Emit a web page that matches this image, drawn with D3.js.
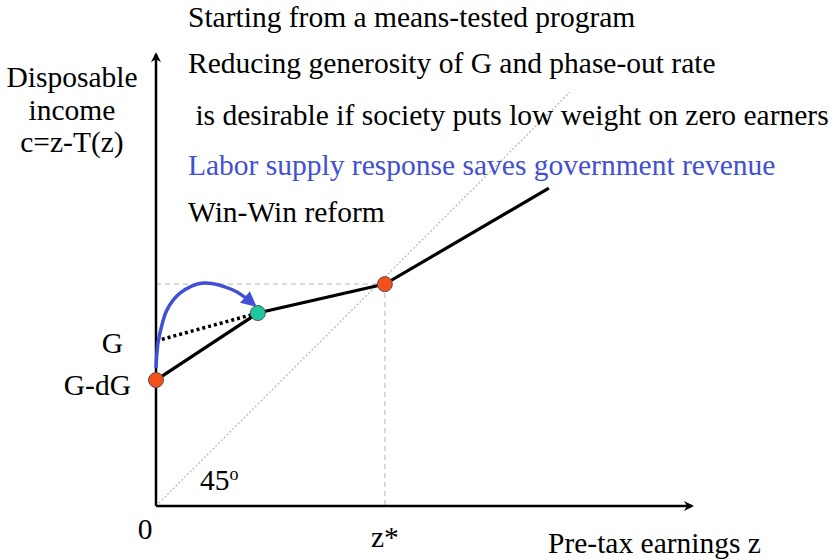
<!DOCTYPE html>
<html><head><meta charset="utf-8">
<script src="https://cdn.jsdelivr.net/npm/d3@7"></script>
<style>body{margin:0;background:#fff}</style>
</head><body><div id="chart"></div>
<script>
// ---- data (model units; 45-degree line means c = z) ----
const zStar = 42.7;
const reformKink = [[0, 23.5], [19.0, 36.0], [zStar, 41.4], [73.3, 59.3]]; // new schedule (solid)
const oldSegment = [[0, 30.8], [19.0, 36.0]];   // original program G -> kink (dotted)
const kinkPoints = [{x: 0, y: 23.5, c: "red"}, {x: 19.0, y: 36.0, c: "green"}, {x: zStar, y: 41.4, c: "red"}];
const responseCurve = [[0, 25.7], [0.37, 30.4], [1.12, 33.8], [2.05, 36.6], [4.48, 39.7], [8.77, 41.6], [14.37, 40.3], [17.9, 37.9]];
const diagonal = [[0, 0], [77.2, 77.2]];
const titleLines = [
  {t: "Starting from a means-tested program", x: 188, y: 27, blue: false},
  {t: "Reducing generosity of G and phase-out rate", x: 188, y: 73, blue: false},
  {t: "\u00a0is desirable if society puts low weight on zero earners", x: 188, y: 125, blue: false},
  {t: "Labor supply response saves government revenue", x: 188, y: 175, blue: true},
  {t: "Win-Win reform", x: 188, y: 222, blue: false}
];
const yLabel = ["Disposable", "income", "c=z-T(z)"];
const xLabel = "Pre-tax earnings z";

const W = 833, H = 560;
const k = 5.36;
const FONT = "'Liberation Serif', 'Times New Roman', 'DejaVu Serif', serif";
const x = d3.scaleLinear().domain([0, 100]).range([156, 156 + 100 * k]);
const y = d3.scaleLinear().domain([0, 100]).range([506, 506 - 100 * k]);

const svg = d3.select("#chart").append("svg").attr("width", W).attr("height", H)
  .attr("font-family", FONT);
const defs = svg.append("defs");
defs.append("marker").attr("id", "axArrow").attr("viewBox", "0 0 10 10").attr("refX", 8).attr("refY", 5)
  .attr("markerWidth", 4).attr("markerHeight", 4).attr("orient", "auto")
  .append("path").attr("d", "M0,0L10,5L0,10L3,5Z").attr("fill", "#000");
defs.append("marker").attr("id", "blueArrow").attr("viewBox", "0 0 10 10").attr("refX", 6).attr("refY", 5)
  .attr("markerWidth", 4.4).attr("markerHeight", 4.4).attr("orient", "auto")
  .append("path").attr("d", "M0,0L10,5L0,10Z").attr("fill", "#4150d6");

const line = d3.line().x(d => x(d[0])).y(d => y(d[1]));

// diagonal
svg.append("path").attr("d", line(diagonal)).attr("stroke", "#b5b5b5").attr("stroke-width", 1.2)
  .attr("stroke-dasharray", "2,2").attr("fill", "none");
// guide lines at z*
svg.append("path").attr("d", line([[0, 41.4], [zStar, 41.4]])).attr("stroke", "#c4c4c4").attr("stroke-width", 1.2)
  .attr("stroke-dasharray", "5,4").attr("fill", "none");
svg.append("path").attr("d", line([[zStar, 41.4], [zStar, 0]])).attr("stroke", "#c4c4c4").attr("stroke-width", 1.2)
  .attr("stroke-dasharray", "5,4").attr("fill", "none");

// axes
svg.append("line").attr("x1", x(0)).attr("y1", y(0)).attr("x2", x(0)).attr("y2", y(84.3))
  .attr("stroke", "#000").attr("stroke-width", 2.5).attr("marker-end", "url(#axArrow)");
svg.append("line").attr("x1", x(0)).attr("y1", y(0)).attr("x2", x(100)).attr("y2", y(0))
  .attr("stroke", "#000").attr("stroke-width", 2.5).attr("marker-end", "url(#axArrow)");

// dotted original segment
svg.append("path").attr("d", line(oldSegment)).attr("stroke", "#000").attr("stroke-width", 3.5)
  .attr("stroke-dasharray", "3,3").attr("fill", "none");
// reform schedule
svg.append("path").attr("d", line(reformKink)).attr("stroke", "#000").attr("stroke-width", 3.2).attr("fill", "none");
// labor supply response
svg.append("path").attr("d", d3.line().x(d => x(d[0])).y(d => y(d[1])).curve(d3.curveCatmullRom)(responseCurve))
  .attr("stroke", "#4150d6").attr("stroke-width", 3.5).attr("fill", "none").attr("marker-end", "url(#blueArrow)");

// points
svg.selectAll("circle.pt").data(kinkPoints).join("circle").attr("class", "pt")
  .attr("cx", d => x(d.x)).attr("cy", d => y(d.y)).attr("r", 7.5)
  .attr("fill", d => d.c === "red" ? "#f4501c" : "#1dc8a0").attr("stroke", "#555").attr("stroke-width", 1);

// text
const fs = 29.5;
svg.selectAll("text.title").data(titleLines).join("text").attr("class", "title")
  .attr("x", d => d.x).attr("y", d => d.y).attr("font-size", fs).attr("font-family", FONT)
  .attr("fill", d => d.blue ? "#4150d6" : "#000").text(d => d.t);
svg.selectAll("text.ylab").data(yLabel).join("text").attr("class", "ylab")
  .attr("x", 72).attr("y", (d, i) => [87, 120, 152][i]).attr("text-anchor", "middle").attr("font-size", fs).attr("font-family", FONT).text(d => d);
svg.append("text").attr("x", 123).attr("y", 353).attr("text-anchor", "end").attr("font-size", fs).attr("font-family", FONT).text("G");
svg.append("text").attr("x", 131).attr("y", 395).attr("text-anchor", "end").attr("font-size", fs).attr("font-family", FONT).text("G-dG");
svg.append("text").attr("x", 145).attr("y", 539).attr("text-anchor", "middle").attr("font-size", fs).attr("font-family", FONT).text("0");
svg.append("text").attr("x", x(zStar)).attr("y", 547).attr("text-anchor", "middle").attr("font-size", fs).attr("font-family", FONT).text("z*");
svg.append("text").attr("x", 548).attr("y", 553).attr("font-size", fs).attr("font-family", FONT).text(xLabel);
const t45 = svg.append("text").attr("x", 200).attr("y", 490).attr("font-size", fs).attr("font-family", FONT);
t45.append("tspan").text("45");
t45.append("tspan").attr("font-size", 18).attr("dy", -10).text("o");
</script></body></html>
